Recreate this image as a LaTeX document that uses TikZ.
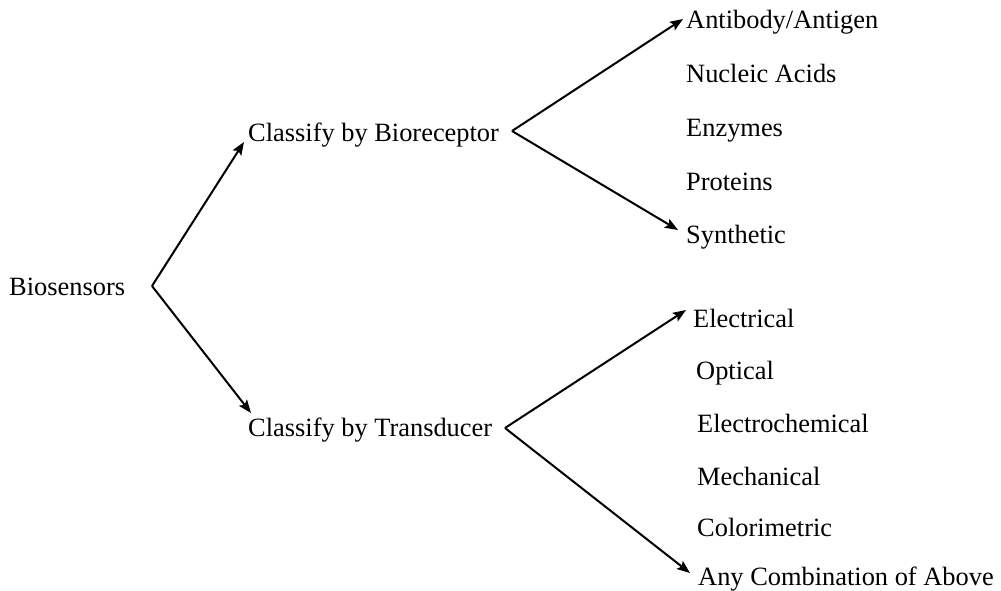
\documentclass[tikz,border=0pt]{standalone}
\usepackage{fontspec}
\setmainfont{Liberation Serif}
\usetikzlibrary{arrows.meta}
\tikzset{
  lbl/.style={anchor=base west, inner sep=0pt, font=\fontsize{26.4}{30}\selectfont},
  arr/.style={line width=2pt, -{Stealth[length=13pt,width=10pt,inset=2.5pt]}},
}
\begin{document}
\begin{tikzpicture}[x=1pt,y=-1pt]
\useasboundingbox (0,0) rectangle (1001,591);
% labels
\node[lbl] (bio) at (9,295) {Biosensors};
\node[lbl] (cbr) at (248,142) {Classify by Bioreceptor};
\node[lbl] (ctr) at (248,436) {Classify by Transducer};
\node[lbl] (ab) at (686,29) {Antibody/Antigen};
\node[lbl] (na) at (686,83) {Nucleic Acids};
\node[lbl] (en) at (686,136) {Enzymes};
\node[lbl] (pr) at (686,190) {Proteins};
\node[lbl] (sy) at (686,243) {Synthetic};
\node[lbl] (el) at (693,327) {Electrical};
\node[lbl] (op) at (696,379) {Optical};
\node[lbl] (ec) at (697,432) {Electrochemical};
\node[lbl] (me) at (697,485) {Mechanical};
\node[lbl] (co) at (697,536) {Colorimetric};
\node[lbl] (an) at (698,585) {Any Combination of Above};
% branch points and arrow ends
\coordinate (v0) at (152,286);
\coordinate (v1) at (512,131);
\coordinate (v2) at (505,428);
\coordinate (t1) at (244,142);
\coordinate (t2) at (251,413);
\coordinate (t3) at (683,19);
\coordinate (t4) at (678,230);
\coordinate (t5) at (686,310);
\coordinate (t6) at (690,573);
\draw[arr] (v0) -- (t1);
\draw[arr] (v0) -- (t2);
\draw[arr] (v1) -- (t3);
\draw[arr] (v1) -- (t4);
\draw[arr] (v2) -- (t5);
\draw[arr] (v2) -- (t6);
\end{tikzpicture}
\end{document}
